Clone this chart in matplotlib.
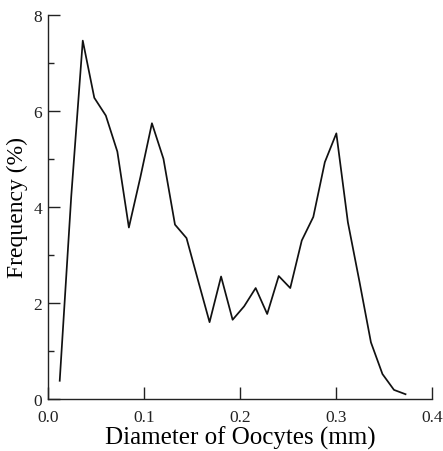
import matplotlib
matplotlib.use("Agg")
import matplotlib.pyplot as plt
from matplotlib.ticker import MultipleLocator

plt.rcParams['font.family'] = ['Liberation Serif', 'DejaVu Serif']

# diametro (mm) y frecuencia (%)
diametro = [0.0125, 0.0245, 0.0365, 0.0485, 0.0605, 0.0725, 0.0845, 0.0965,
            0.1085, 0.1205, 0.1325, 0.1445, 0.1565, 0.1685, 0.1805, 0.1925,
            0.2045, 0.2165, 0.2285, 0.2405, 0.2525, 0.2645, 0.2765, 0.2885,
            0.3005, 0.3125, 0.3245, 0.3365, 0.3485, 0.3605, 0.3725]
frecuencia = [0.38, 4.22, 7.46, 6.27, 5.90, 5.15, 3.57, 4.62,
              5.74, 5.00, 3.63, 3.35, 2.47, 1.60, 2.55, 1.65,
              1.93, 2.31, 1.77, 2.56, 2.31, 3.30, 3.79, 4.93,
              5.53, 3.68, 2.45, 1.18, 0.52, 0.19, 0.10]

x_ticks = [0.0, 0.1, 0.2, 0.3, 0.4]
y_ticks = [0, 2, 4, 6, 8]

fig = plt.figure(figsize=(4.43, 4.52), dpi=100)
ax = fig.add_axes([0.1077, 0.115, 0.8673, 0.8503])

ax.plot(diametro, frecuencia, color='#111111', linewidth=1.25)

ax.set_xlim(0, 0.4)
ax.set_ylim(0, 8)
ax.set_xticks(x_ticks)
ax.set_xticklabels([f"{t:.1f}" for t in x_ticks])
ax.set_yticks(y_ticks)
ax.yaxis.set_minor_locator(MultipleLocator(1))

for s in ['top', 'right']:
    ax.spines[s].set_visible(False)
for s in ['left', 'bottom']:
    ax.spines[s].set_linewidth(1.0)
    ax.spines[s].set_color('#222222')

ax.tick_params(axis='both', which='major', direction='in', length=8.6,
               width=1.0, labelsize=12.5, colors='#222222')
ax.tick_params(axis='x', which='major', pad=7.5)
ax.tick_params(axis='y', which='major', pad=4)
ax.tick_params(axis='y', which='minor', direction='in', length=4.3, width=1.0,
               colors='#222222')

ax.set_xlabel("Diameter of Oocytes (mm)", fontsize=18, labelpad=0)
ax.set_ylabel("Frequency (%)", fontsize=17, labelpad=4)

fig.savefig("out.png", dpi=100)
